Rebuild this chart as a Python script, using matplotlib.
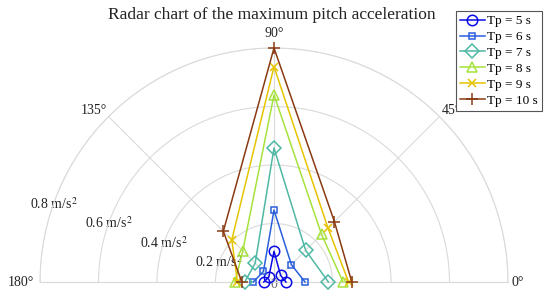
import numpy as np
import matplotlib
matplotlib.use("Agg")
import matplotlib.pyplot as plt
from matplotlib import transforms

plt.rcParams['font.family'] = ['Liberation Serif', 'DejaVu Serif']
plt.rcParams['mathtext.fontset'] = 'stix'

# ---- data ----
angles_deg = [0, 45, 90, 135, 180]
series_labels = ['Tp = 5 s', 'Tp = 6 s', 'Tp = 7 s', 'Tp = 8 s', 'Tp = 9 s', 'Tp = 10 s']
tp5 = [0.041, 0.032, 0.105, 0.025, 0.035]
tp6 = [0.106, 0.084, 0.246, 0.051, 0.071]
tp7 = [0.186, 0.153, 0.458, 0.091, 0.100]
tp8 = [0.236, 0.230, 0.640, 0.151, 0.133]
tp9 = [0.255, 0.261, 0.736, 0.204, 0.125]
tp10 = [0.266, 0.292, 0.800, 0.245, 0.110]
series = [tp5, tp6, tp7, tp8, tp9, tp10]
r_ticks = [0.2, 0.4, 0.6, 0.8]
r_tick_labels = [r'0.2 m/s$^2$', r'0.4 m/s$^2$', r'0.6 m/s$^2$', r'0.8 m/s$^2$']
theta_tick_labels = ['0°', '45°', '90°', '135°', '180°']
title = 'Radar chart of the maximum pitch acceleration'

# ---- style ----
colors = ['#0A0AE6', '#2A5FDC', '#4FB8A4', '#A6E23C', '#E6C400', '#8A3A12']
markers = ['o', 's', 'D', '^', 'x', '+']
msizes = [7.5, 5.0, 7.0, 7.5, 6.0, 8.0]
grid_c = '#DADADA'

W, H = 550, 296
cx, cy, R = 274, 282, 234  # pixel centre (from top) and outer radius
fig = plt.figure(figsize=(W / 100, H / 100), dpi=100)
# polar wedge bbox is forced square: half-disc sits in middle of a 2R x 2R box
box_top_px = cy - R - R / 2
ax = fig.add_axes([(cx - R) / W, (H - (box_top_px + 2 * R)) / H, 2 * R / W, 2 * R / H],
                  projection='polar')
ax.set_thetamin(0)
ax.set_thetamax(180)
ax.set_ylim(0, 0.8)
ax.set_rticks(r_ticks)
ax.set_yticklabels([])
ax.set_thetagrids(angles_deg, labels=[''] * len(angles_deg))
ax.grid(True, color=grid_c, linewidth=0.8)
for sp in ax.spines.values():
    sp.set_color(grid_c)
    sp.set_linewidth(0.8)
ax.tick_params(length=0)

th = np.deg2rad(angles_deg)
for vals, c, m, ms, lab in zip(series, colors, markers, msizes, series_labels):
    ax.plot(th, vals, color=c, marker=m, markersize=ms, markerfacecolor='none',
            markeredgewidth=1.1, linewidth=1.1, label=lab, zorder=3, clip_on=False)

# radial labels along 160.5 deg
rl = np.deg2rad(160.5)
for r, lab in zip(r_ticks, r_tick_labels):
    ax.text(rl, r, lab, ha='center', va='center', fontsize=10, color='#222222', zorder=1)
ax.text(0, 0, '0', ha='center', va='center', fontsize=10, color='#666666', zorder=1,
        transform=transforms.offset_copy(ax.transData, fig=fig, x=0, y=-2, units='dots'))

# theta labels
def off(dx, dy):
    return transforms.offset_copy(ax.transData, fig=fig, x=dx, y=dy, units='dots')

place = {
    0: ('left', 'center', 4, -1),
    45: ('left', 'bottom', 2, 0),
    90: ('center', 'bottom', 0, 8),
    135: ('right', 'bottom', -2, 0),
    180: ('right', 'center', -6, -1),
}
for a, lab in zip(angles_deg, theta_tick_labels):
    ha, va, dx, dy = place[a]
    ax.text(np.deg2rad(a), 0.8, lab, ha=ha, va=va, fontsize=10, color='#222222',
            transform=off(dx, dy), clip_on=False)

fig.text(272 / W, 1 - 15 / H, title, ha='center', va='center', fontsize=12.5, color='#222222')

leg = fig.legend(loc='upper right', bbox_to_anchor=(542 / W, 1 - 11 / H), fontsize=9.5,
                 fancybox=False, framealpha=1, edgecolor='#555555', borderaxespad=0,
                 handlelength=1.9, handletextpad=0.2, labelspacing=0.28, borderpad=0.3)
leg.get_frame().set_linewidth(0.8)
leg.set_zorder(10)

fig.savefig('out.png', dpi=100)
